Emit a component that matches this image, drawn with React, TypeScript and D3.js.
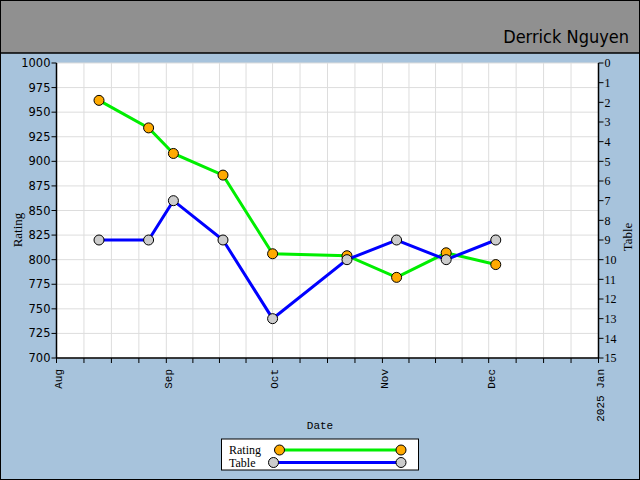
import React from "react";
import * as d3 from "d3";

const dates = ["2024-08-13", "2024-08-27", "2024-09-03", "2024-09-17", "2024-10-01", "2024-10-22", "2024-11-05", "2024-11-19", "2024-12-03"];
const rating = [962, 934, 908, 886, 806, 804, 782, 807, 795];
const table = [9, 9, 7, 9, 13, 10, 9, 10, 9];
const ratingTicks = [700, 725, 750, 775, 800, 825, 850, 875, 900, 925, 950, 975, 1000];
const tableTicks = d3.range(0, 16);
const monthLabels = ["Aug", "Sep", "Oct", "Nov", "Dec", "2025 Jan"];
const title = "Derrick Nguyen";

const W = 640, H = 480;
const L = 56.5, R = 598.5, T = 63, B = 358;

export default function App() {
  const parse = d3.timeParse("%Y-%m-%d");
  const pts = dates.map((d) => parse(d) as Date);
  const x = d3.scaleTime().domain([new Date(2024, 7, 1), new Date(2025, 0, 1)]).range([L, R]);
  const yL = d3.scaleLinear().domain([700, 1000]).range([B, T]);
  const yR = d3.scaleLinear().domain([0, 15]).range([T, B]);
  const months = d3.timeMonth.range(new Date(2024, 7, 1), new Date(2025, 0, 2));
  const minor: number[] = [];
  for (let i = 0; i < months.length - 1; i++) {
    const a = months[i].getTime(), b = months[i + 1].getTime();
    for (let k = 0; k < 4; k++) minor.push(a + ((b - a) * k) / 4);
  }
  minor.push(months[months.length - 1].getTime());
  const lineR = d3.line<number>().x((_, i) => x(pts[i])).y((v) => yL(v));
  const lineT = d3.line<number>().x((_, i) => x(pts[i])).y((v) => yR(v));
  const bg = "#a7c3dc";
  const green = "#00ee00";
  const blue = "#0000ff";
  const orange = "#ffaa00";
  const grey = "#cccccc";
  const numFont = "'DejaVu Sans', sans-serif";
  return (
    <svg width={W} height={H} style={{ position: "absolute", left: 0, top: 0 }}>
      <rect x={0} y={0} width={W} height={H} fill={bg} />
      <rect x={0} y={0} width={W} height={53} fill="#909090" />
      <line x1={0} x2={W} y1={53} y2={53} stroke="#000" strokeWidth={1.5} />
      <text x={629} y={43} textAnchor="end" fontFamily="'DejaVu Sans Condensed', 'DejaVu Sans', sans-serif" fontWeight={200} fontSize={18} fill="#000">{title}</text>
      <rect x={L} y={T} width={R - L} height={B - T} fill="#fff" />
      {minor.map((t, i) => (
        <line key={"gv" + i} x1={x(new Date(t))} x2={x(new Date(t))} y1={T} y2={B} stroke="#dddddd" />
      ))}
      {ratingTicks.map((v) => (
        <line key={"gh" + v} x1={L} x2={R} y1={yL(v)} y2={yL(v)} stroke="#dddddd" />
      ))}
      <path d={lineR(rating) || ""} fill="none" stroke={green} strokeWidth={3} />
      {rating.map((v, i) => (
        <circle key={"cr" + i} cx={x(pts[i])} cy={yL(v)} r={5} fill={orange} stroke="#000" strokeWidth={1} />
      ))}
      <path d={lineT(table) || ""} fill="none" stroke={blue} strokeWidth={3} />
      {table.map((v, i) => (
        <circle key={"ct" + i} cx={x(pts[i])} cy={yR(v)} r={5} fill={grey} stroke="#000" strokeWidth={1} />
      ))}
      <line x1={L} x2={L} y1={T} y2={B} stroke="#000" strokeWidth={1.5} />
      <line x1={R} x2={R} y1={T} y2={B} stroke="#000" strokeWidth={1.5} />
      <line x1={L} x2={R} y1={B} y2={B} stroke="#000" strokeWidth={1.5} />
      {ratingTicks.map((v) => (
        <g key={"lt" + v}>
          <line x1={L - 5} x2={L} y1={yL(v)} y2={yL(v)} stroke="#000" />
          <text x={L - 6} y={yL(v)} dy="0.35em" textAnchor="end" fontFamily={numFont} fontSize={11.5} fill="#000">{v}</text>
        </g>
      ))}
      {tableTicks.map((v) => (
        <g key={"rt" + v}>
          <line x1={R} x2={R + 5} y1={yR(v)} y2={yR(v)} stroke="#000" />
          <text x={R + 6} y={yR(v)} dy="0.35em" textAnchor="start" fontFamily="'Liberation Serif', serif" fontSize={12} fill="#000">{v}</text>
        </g>
      ))}
      {minor.map((t, i) => (
        <line key={"xt" + i} x1={x(new Date(t))} x2={x(new Date(t))} y1={B} y2={B + 5} stroke="#000" />
      ))}
      {months.map((m, i) => (
        <text key={"ml" + i} transform={`translate(${x(m) + 2},${B + 11}) rotate(-90)`} textAnchor="end" dy="0.35em" fontFamily="'Liberation Mono', monospace" fontSize={11} fill="#000">{monthLabels[i]}</text>
      ))}
      <text x={320} y={429} textAnchor="middle" fontFamily="'Liberation Mono', monospace" fontSize={11} fill="#000">Date</text>
      <text transform={`translate(22,230) rotate(-90)`} textAnchor="middle" fontFamily="'Liberation Serif', serif" fontSize={13} fill="#000">Rating</text>
      <text transform={`translate(632,237) rotate(-90)`} textAnchor="middle" fontFamily="'Liberation Serif', serif" fontSize={13} fill="#000">Table</text>
      <rect x={221.5} y={439} width={197} height={31} fill="#fff" stroke="#000" />
      <text x={229} y={454} fontFamily="'Liberation Serif', serif" fontSize={12} fill="#000">Rating</text>
      <text x={229} y={466.5} fontFamily="'Liberation Serif', serif" fontSize={12} fill="#000">Table</text>
      <line x1={279.5} x2={401} y1={450} y2={450} stroke={green} strokeWidth={3} />
      <circle cx={279.5} cy={450} r={5} fill={orange} stroke="#000" />
      <circle cx={401} cy={450} r={5} fill={orange} stroke="#000" />
      <line x1={273.5} x2={401} y1={462.5} y2={462.5} stroke={blue} strokeWidth={3} />
      <circle cx={273.5} cy={462.5} r={5} fill={grey} stroke="#000" />
      <circle cx={401} cy={462.5} r={5} fill={grey} stroke="#000" />
      <rect x={0.5} y={0.5} width={W - 1} height={H - 1} fill="none" stroke="#000" />
    </svg>
  );
}
